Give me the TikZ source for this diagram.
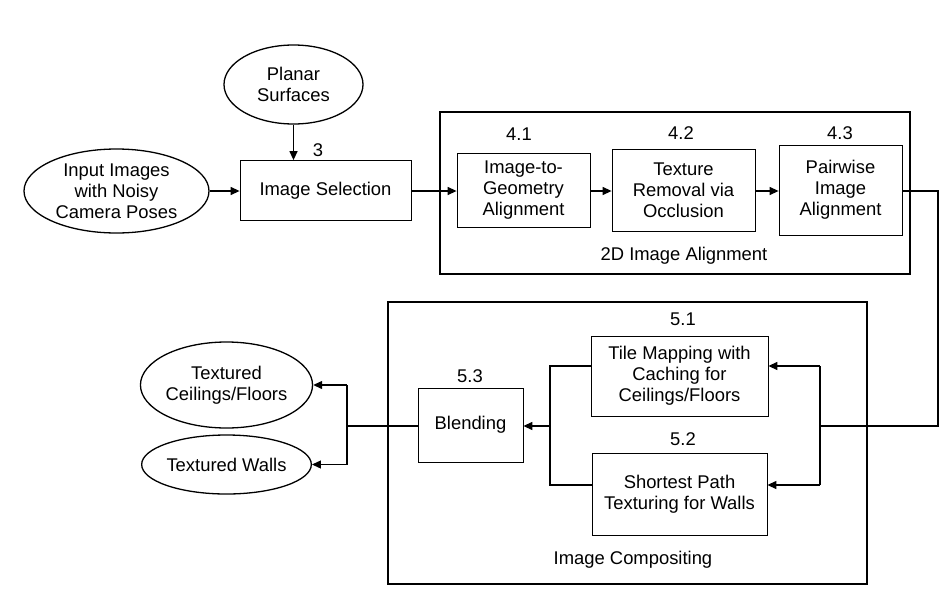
\documentclass[tikz,border=0pt]{standalone}
\usepackage{fontspec}
\setmainfont{Liberation Sans}
\usetikzlibrary{shapes.geometric,arrows.meta}
\begin{document}
\begin{tikzpicture}[x=1pt,y=-1pt,
  txt/.style={font=\fontsize{18.4}{21}\selectfont, align=center, inner sep=0pt},
  box/.style={txt, draw, line width=0.8pt, rectangle, fill=white},
  bigbox/.style={draw, line width=1.4pt, rectangle, inner sep=0pt},
  ell/.style={txt, draw, line width=1.3pt, ellipse},
  lbl/.style={txt},
  arr/.style={line width=1.3pt, -{Triangle[length=9pt,width=8pt]}},
  ln/.style={line width=1.3pt}]
\useasboundingbox (0,0) rectangle (947,608);
% outer group boxes
\node[bigbox, minimum width=470pt, minimum height=162pt] (g2d) at (675,193) {};
\node[bigbox, minimum width=479pt, minimum height=282pt] (gcomp) at (627.5,443) {};
% top row
\node[ell, minimum width=139pt, minimum height=79pt] (planar) at (293.5,84.5) {Planar\\Surfaces};
\node[ell, minimum width=185pt, minimum height=84pt] (input) at (116.5,191) {Input Images\\with Noisy\\Camera Poses};
\node[box, minimum width=171pt, minimum height=60pt] (sel) at (325.5,190.5) {Image Selection};
\node[lbl] (l3) at (318,150) {3};
\node[box, minimum width=133pt, minimum height=74pt] (a41) at (523.5,190) {Image-to-\\Geometry\\Alignment};
\node[box, minimum width=143pt, minimum height=82pt] (a42) at (683.5,190) {Texture\\Removal via\\Occlusion};
\node[box, minimum width=123pt, minimum height=90pt] (a43) at (840.5,190) {Pairwise\\Image\\Alignment};
\node[lbl] (l41) at (519,134) {4.1};
\node[lbl] (l42) at (681,133) {4.2};
\node[lbl] (l43) at (840,133) {4.3};
\node[lbl] (l2d) at (684,256) {2D Image Alignment};
% bottom row
\node[box, minimum width=177pt, minimum height=80pt] (t51) at (679.5,376) {Tile Mapping with\\Caching for\\Ceilings/Floors};
\node[box, minimum width=175pt, minimum height=82pt] (t52) at (679.5,494) {Shortest Path\\Texturing for Walls};
\node[box, minimum width=105pt, minimum height=74pt] (blend) at (470.5,425) {Blending};
\node[lbl] (l51) at (683,319) {5.1};
\node[lbl] (l52) at (683,439) {5.2};
\node[lbl] (l53) at (470,376) {5.3};
\node[lbl] (lcomp) at (633,560) {Image Compositing};
\node[ell, minimum width=151pt, minimum height=86pt] (tcf) at (226.5,385) {Textured\\Ceilings/Floors};
\node[ell, minimum width=153pt, minimum height=59pt] (tw) at (226.5,464.5) {Textured Walls};
% connectors top
\draw[arr] (planar) -- (sel.north -| planar);
\draw[arr] (input.east) -- (sel.west |- input.east);
\draw[arr] (sel.east |- 0,191) -- (a41.west |- 0,191);
\draw[arr] (a41.east |- 0,191) -- (a42.west |- 0,191);
\draw[arr] (a42.east |- 0,191) -- (a43.west |- 0,191);
% route to compositing
\coordinate (r1) at (938,191);
\coordinate (r2) at (938,426);
\coordinate (sm) at (820,426);
\coordinate (s1) at (820,366);
\coordinate (s2) at (820,485);
\draw[ln] (a43.east |- r1) -- (r1) -- (r2) -- (sm);
\draw[ln] (s1) -- (s2);
\draw[arr] (s1) -- (s1 -| t51.east);
\draw[arr] (s2) -- (s2 -| t52.east);
% merge to blending
\coordinate (b1) at (550,366);
\coordinate (b2) at (550,485);
\coordinate (bm) at (550,426);
\draw[ln] (t51.west |- b1) -- (b1) -- (b2) -- (t52.west |- b2);
\draw[arr] (bm) -- (bm -| blend.east);
% outputs
\coordinate (j) at (347,426);
\coordinate (j1) at (347,385);
\coordinate (j2) at (347,464.5);
\draw[ln] (blend.west |- j) -- (j);
\draw[ln] (j1) -- (j2);
\draw[arr] (j1) -- (tcf.east);
\draw[arr] (j2) -- (tw.east);
\end{tikzpicture}
\end{document}
